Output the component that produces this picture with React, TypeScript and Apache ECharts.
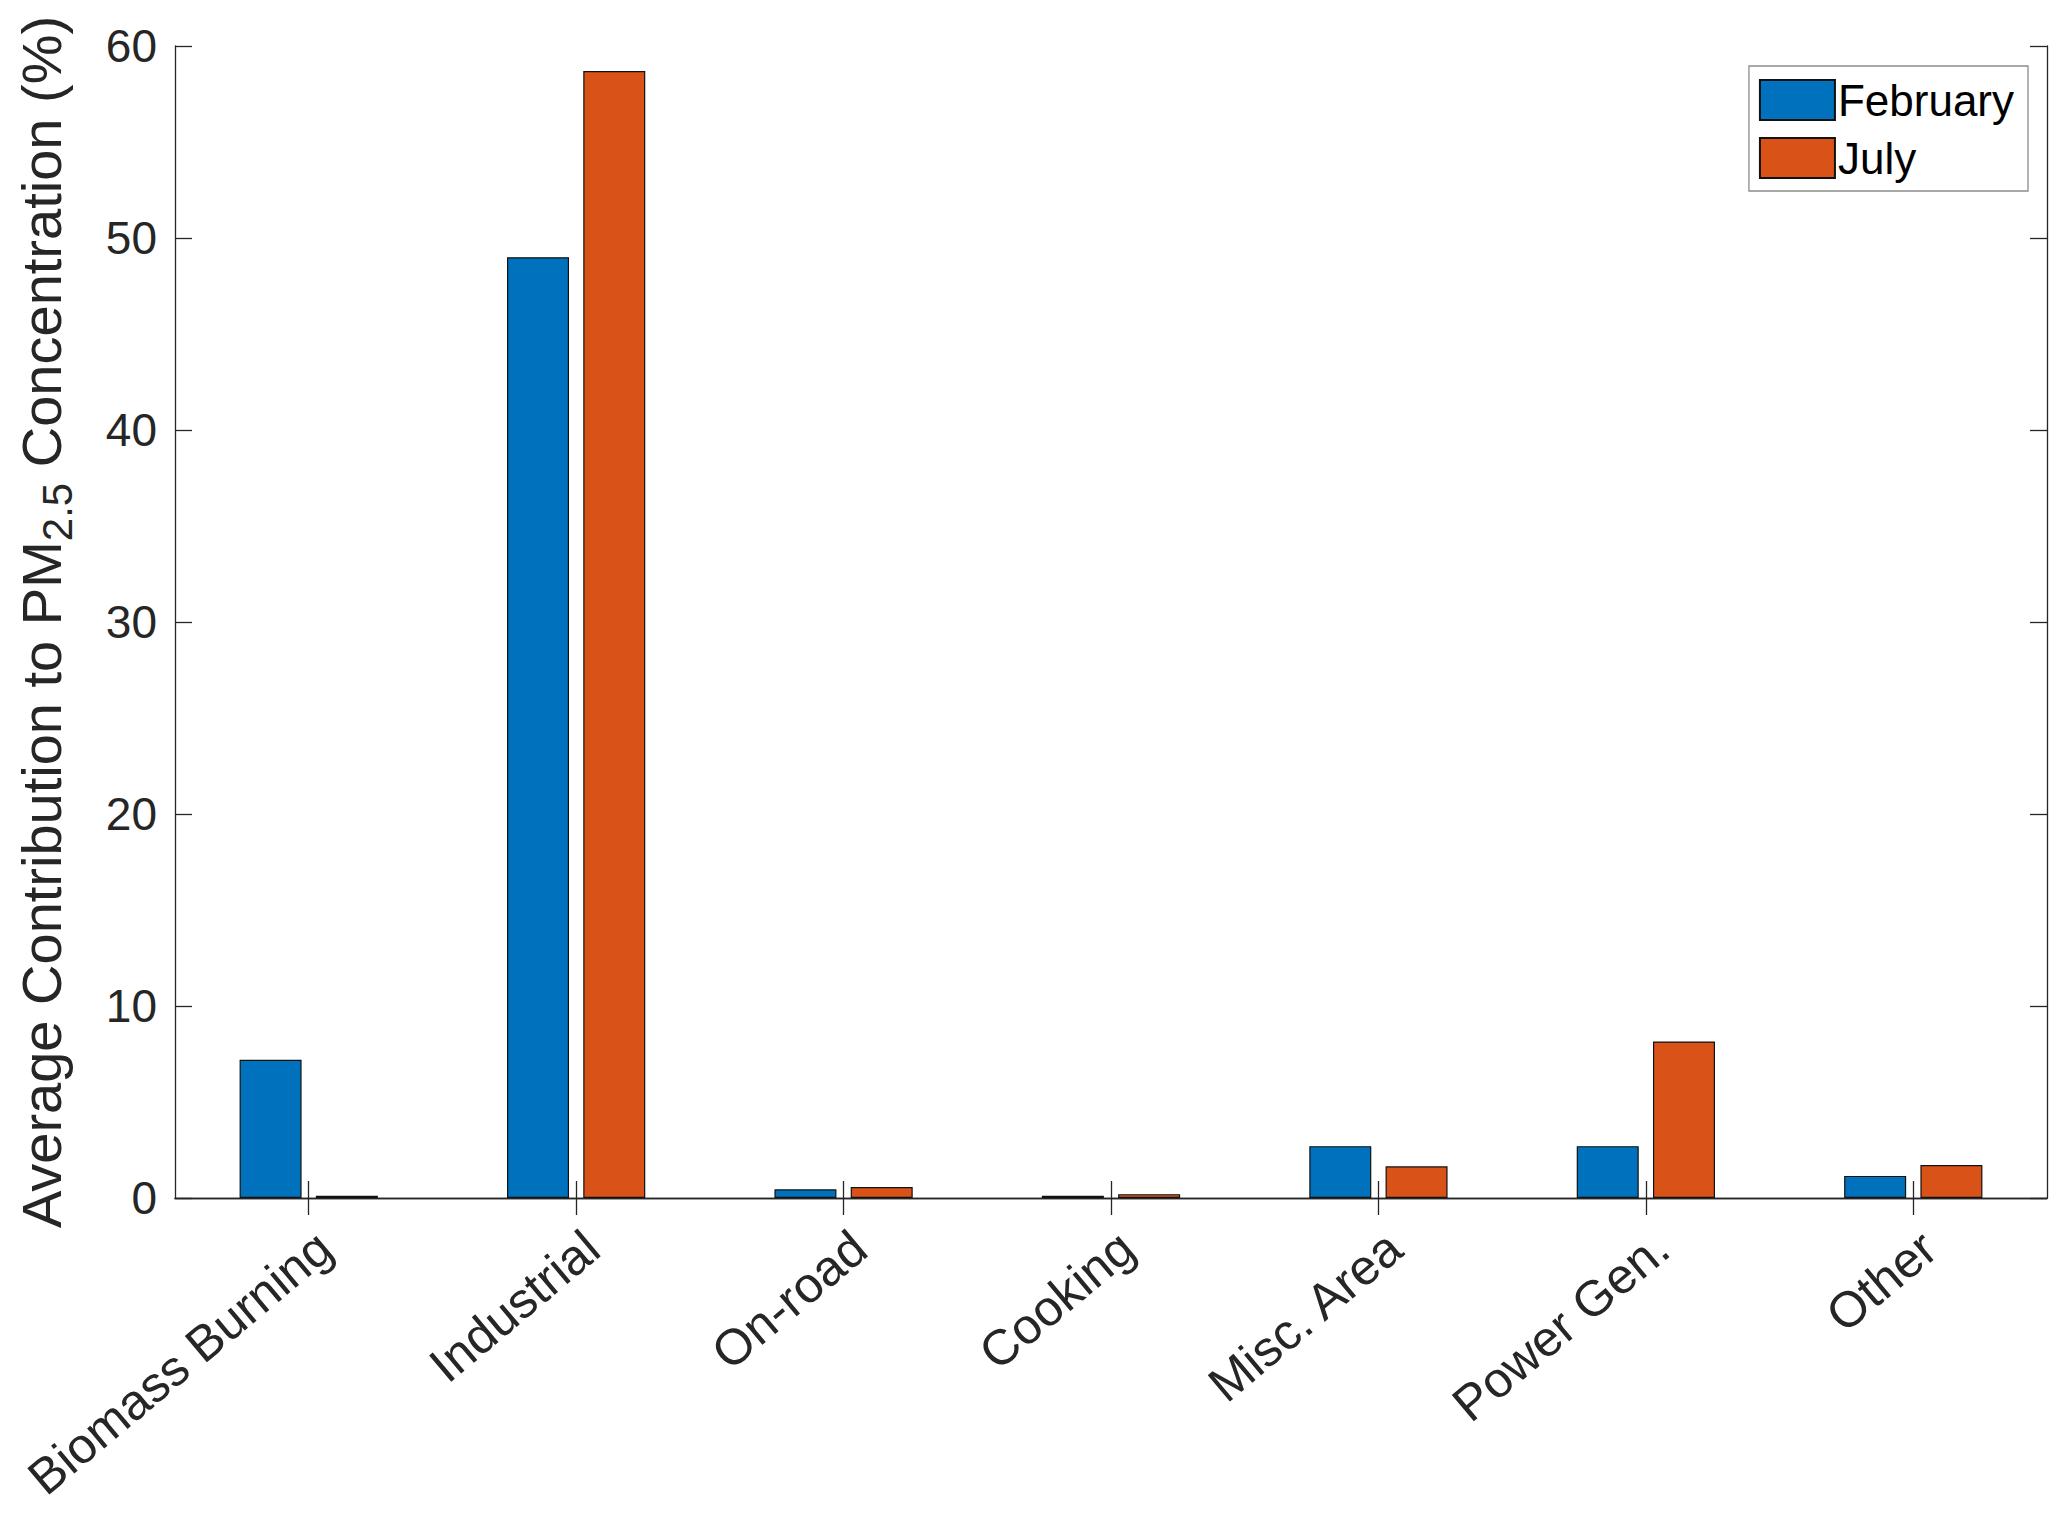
import React, { useEffect, useRef } from "react";
import * as echarts from "echarts";

const categories = ["Biomass Burning", "Industrial", "On-road", "Cooking", "Misc. Area", "Power Gen.", "Other"];
const februaryValues = [7.2, 49.0, 0.45, 0.12, 2.7, 2.7, 1.15];
const julyValues = [0.12, 58.7, 0.57, 0.2, 1.65, 8.15, 1.72];
const seriesNames = ["February", "July"];
const yMin = 0;
const yMax = 60;
const yInterval = 10;

const FONT = "'Liberation Sans', Arial, Helvetica, sans-serif";
const AX = "#262626";

export default function App() {
  const ref = useRef<HTMLDivElement>(null);
  useEffect(() => {
    if (!ref.current) return;
    const chart = echarts.init(ref.current, null, { renderer: "svg" });
    const axisLine = { show: true, lineStyle: { color: AX, width: 1.3 } };
    chart.setOption({
      animation: false,
      backgroundColor: "#ffffff",
      textStyle: { fontFamily: FONT },
      grid: { left: 175, right: 20, top: 46, bottom: 315, containLabel: false },
      legend: {
        orient: "vertical",
        right: 39,
        top: 66,
        itemWidth: 75,
        itemHeight: 40,
        itemGap: 14,
        padding: [12, 14, 11, 10],
        backgroundColor: "#ffffff",
        borderColor: "#8c8c8c",
        borderWidth: 1.3,
        borderRadius: 0,
        icon: "rect",
        textStyle: { fontSize: 44, color: "#000", fontFamily: FONT, padding: [0, 0, 0, -2] },
        data: seriesNames,
      },
      xAxis: [
        {
          type: "category",
          data: categories,
          position: "bottom",
          axisLine,
          axisTick: { show: true, inside: true, alignWithLabel: true, length: 17, lineStyle: { color: AX, width: 1.3 } },
          axisLabel: {
            interval: 0,
            rotate: 40,
            align: "right",
            verticalAlign: "top",
            margin: 24,
            fontSize: 50,
            color: AX,
            fontFamily: FONT,
          },
          splitLine: { show: false },
        },
        {
          type: "category",
          data: categories,
          position: "top",
          axisLine,
          axisTick: { show: true, inside: true, alignWithLabel: true, length: 17, lineStyle: { color: AX, width: 1.3 } },
          axisLabel: { show: false },
          splitLine: { show: false },
        },
      ],
      yAxis: [
        {
          type: "value",
          min: yMin,
          max: yMax,
          interval: yInterval,
          position: "left",
          axisLine,
          axisTick: { show: true, inside: true, length: 17, lineStyle: { color: AX, width: 1.3 } },
          axisLabel: { fontSize: 46, color: AX, margin: 18, fontFamily: FONT },
          splitLine: { show: false },
          name: "{m|Average Contribution to PM}{s|2.5}{m| Concentration (%)}",
          nameLocation: "middle",
          nameRotate: 90,
          nameGap: 97,
          nameTextStyle: {
            color: AX,
            fontFamily: FONT,
            fontSize: 56,
            rich: {
              m: { fontSize: 56, color: AX, fontFamily: FONT },
              s: { fontSize: 42, color: AX, fontFamily: FONT, padding: [32, 0, 0, 0] },
            },
          },
        },
        {
          type: "value",
          min: yMin,
          max: yMax,
          interval: yInterval,
          position: "right",
          axisLine,
          axisTick: { show: true, inside: true, length: 17, lineStyle: { color: AX, width: 1.3 } },
          axisLabel: { show: false },
          splitLine: { show: false },
        },
      ],
      series: [
        {
          name: seriesNames[0],
          type: "bar",
          data: februaryValues,
          xAxisIndex: 0,
          yAxisIndex: 0,
          barWidth: 62,
          barGap: "23%",
          itemStyle: { color: "#0072BD", borderColor: "#111111", borderWidth: 1.2 },
        },
        {
          name: seriesNames[1],
          type: "bar",
          data: julyValues,
          xAxisIndex: 0,
          yAxisIndex: 0,
          barWidth: 62,
          barGap: "23%",
          itemStyle: { color: "#D95319", borderColor: "#111111", borderWidth: 1.2 },
        },
      ],
    });
    return () => chart.dispose();
  }, []);
  return (
    <div style={{ position: "absolute", left: 0, top: 0, width: 2067, height: 1513, background: "#fff" }}>
      <div ref={ref} style={{ width: 2067, height: 1513 }} />
    </div>
  );
}
